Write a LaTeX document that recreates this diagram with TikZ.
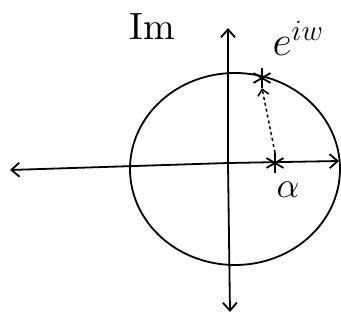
\documentclass[tikz,border=0pt]{standalone}
\usepackage{fix-cm}
\usetikzlibrary{arrows.meta}
\begin{document}
\begin{tikzpicture}[x=1pt,y=-1pt,
  axis/.style={line width=1.8pt,-{Straight Barb[length=8pt,width=14pt]}},
  curve/.style={line width=1.8pt},
  star/.style={circle,minimum size=20pt,inner sep=0pt,
    path picture={\draw[line width=1.8pt]
      (path picture bounding box.90) -- (path picture bounding box.270)
      (path picture bounding box.30) -- (path picture bounding box.210)
      (path picture bounding box.150) -- (path picture bounding box.330);}},
  lab/.style={inner sep=0pt}]
\useasboundingbox (0,0) rectangle (341,322);
\coordinate (O) at (228,163);
\coordinate (L) at (10,170);
\coordinate (R) at (339,161);
\coordinate (T) at (228,28);
\coordinate (B) at (230,312);
\draw[curve] (235,169) ellipse [x radius=105, y radius=96];
\draw[axis] (O) -- (L);
\draw[axis] (O) -- (R);
\draw[axis] (O) -- (T);
\draw[axis] (O) -- (B);
\node[star] (e) at (262,78) {};
\node[star] (a) at (275,163) {};
\draw[line width=1.5pt,dashed,-{Straight Barb[length=6pt,width=11pt]}] (a.north) -- (e.south);
\node[lab] (im) at (152,27) {\scalebox{3.8}{Im}};
\node[lab,font=\fontsize{42}{42}\selectfont] (eiw) at (298,38) {$e^{iw}$};
\node[lab,font=\fontsize{36}{36}\selectfont] (al) at (288,190) {$\alpha$};
\end{tikzpicture}
\end{document}
